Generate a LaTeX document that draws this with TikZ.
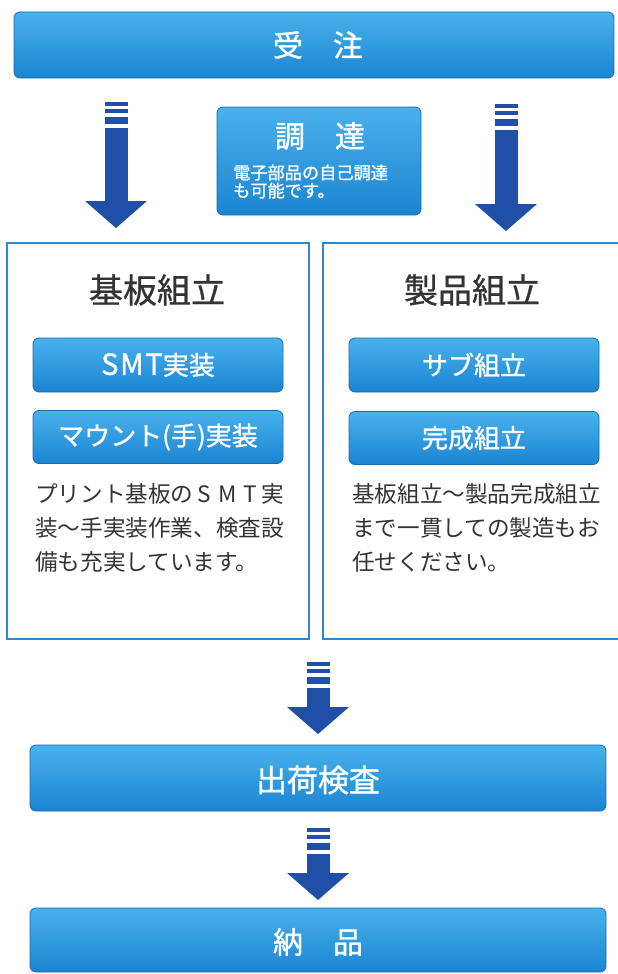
\documentclass[tikz,border=0pt]{standalone}
\usepackage{fontspec}
\newfontfamily\jp{Noto Sans CJK JP}
\newfontfamily\jpw[FakeBold=1.2]{Noto Sans CJK JP}
\newfontfamily\jpt[FakeBold=0.7]{Noto Sans CJK JP}
\definecolor{barTop}{HTML}{48B2EC}
\definecolor{barBot}{HTML}{1B84D2}
\definecolor{barLine}{HTML}{1C6AB0}
\definecolor{arrowBlue}{HTML}{1F4FA6}
\definecolor{panelLine}{HTML}{2B8AD5}
\definecolor{ink}{HTML}{333333}
\tikzset{
  bluebar/.style={rounded corners=6pt, top color=barTop, bottom color=barBot, draw=barLine, line width=0.8pt, text=white, inner sep=0pt, font=\jpw},
  bartext/.style={text=white, inner sep=0pt, font=\jpw\fontsize{30}{36}\selectfont},
  panelbox/.style={draw=panelLine, line width=1.6pt, fill=white, inner sep=0pt},
  paneltitle/.style={text=ink, inner sep=0pt, font=\jpt\fontsize{34}{40}\selectfont},
  bodytext/.style={text=ink, inner sep=0pt, align=left, font=\jp\fontsize{22.6}{34}\selectfont},
  arrowfill/.style={fill=arrowBlue}
}
\newcommand\fw[1]{\makebox[1em]{#1}}
% block arrow: centre x, top of stripes, tip
\newcommand\blkarrow[3]{%
  \fill[arrowfill] ({#1-11.5},{#2}) rectangle ({#1+11.5},{#2+4});
  \fill[arrowfill] ({#1-11.5},{#2+7}) rectangle ({#1+11.5},{#2+11});
  \fill[arrowfill] ({#1-11.5},{#2+15}) rectangle ({#1+11.5},{#2+22});
  \fill[arrowfill] ({#1-11.5},{#2+26}) rectangle ({#1+11.5},{#3-26.5});
  \fill[arrowfill] ({#1-31},{#3-27}) -- ({#1+31},{#3-27}) -- ({#1},{#3}) -- cycle;
}
\begin{document}
\begin{tikzpicture}[x=1pt,y=-1pt]
\useasboundingbox (0,0) rectangle (618,974);
\fill[white] (0,0) rectangle (618,974);

% top bar
\node[bluebar, minimum width=600pt, minimum height=66pt] (order) at (314,45) {};
\node[bartext] (ordert) at (318,45) {受　注};

% procurement box
\node[bluebar, minimum width=204pt, minimum height=108pt] (proc) at (319,161) {};
\node[bartext] (proct) at (320,136) {調　達};
\node[text=white, font=\jpw\fontsize{17.2}{18}\selectfont, inner sep=0pt, align=left, anchor=west] (procs) at (233,181.5) {電子部品の自己調達\\も可能です。};

% arrows from order
\blkarrow{116}{102}{228}
\blkarrow{506}{104}{231}

% left panel
\node[panelbox, minimum width=302pt, minimum height=396pt] (left) at (158,441) {};
\node[paneltitle] (lt) at (157,290) {基板組立};
\node[bluebar, minimum width=250pt, minimum height=54pt, font=\jpw\fontsize{26}{30}\selectfont] (smt) at (158,365) {{\fontsize{29}{30}\selectfont\addfontfeature{LetterSpace=6}SMT}実装};
\node[bluebar, minimum width=250pt, minimum height=53pt, font=\jpw\fontsize{26}{30}\selectfont] (mount) at (158,437) {マウント(手)実装};
\node[bodytext, anchor=west] (lb) at (35,528) {プリント基板の\fw{S}\fw{M}\fw{T}実\\装〜手実装作業、検査設\\備も充実しています。};

% right panel
\node[panelbox, minimum width=297pt, minimum height=396pt] (right) at (471.5,441) {};
\node[paneltitle] (rt) at (472,290) {製品組立};
\node[bluebar, minimum width=250pt, minimum height=54pt, font=\jpw\fontsize{26}{30}\selectfont] (sub) at (474,365) {サブ組立};
\node[bluebar, minimum width=250pt, minimum height=53pt, font=\jpw\fontsize{26}{30}\selectfont] (fin) at (474,438) {完成組立};
\node[bodytext, anchor=west] (rb) at (352,528) {基板組立〜製品完成組立\\まで一貫しての製造もお\\任せください。};

% inspection
\blkarrow{318}{662}{734}
\node[bluebar, minimum width=576pt, minimum height=66pt] (insp) at (318,778) {};
\node[bartext, font=\jpw\fontsize{31}{36}\selectfont] (inspt) at (318,780) {出荷検査};

% delivery
\blkarrow{318}{828}{900}
\node[bluebar, minimum width=576pt, minimum height=64pt] (deliv) at (318,940) {};
\node[bartext] (delivt) at (318,942) {納　品};
\end{tikzpicture}
\end{document}
